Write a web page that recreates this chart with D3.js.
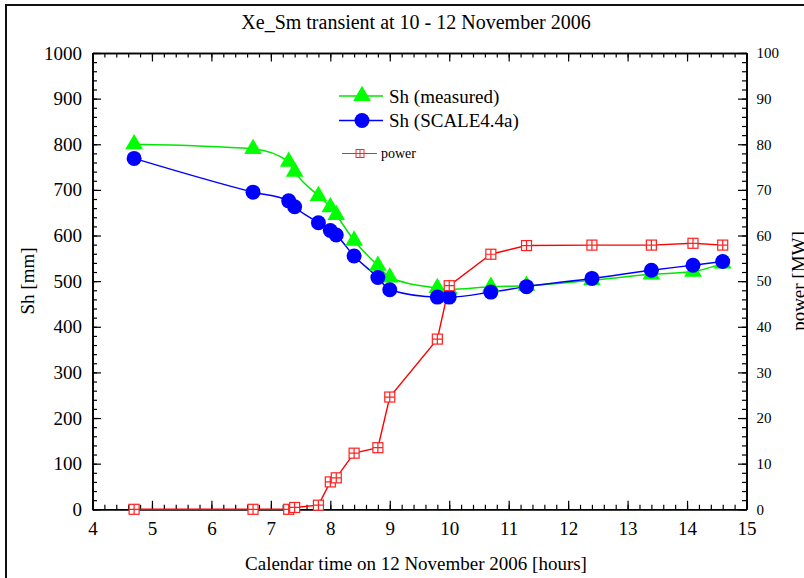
<!DOCTYPE html>
<html>
<head>
<meta charset="utf-8">
<script src="https://cdn.jsdelivr.net/npm/d3@7"></script>
<style>
  body { margin: 0; background: #fff; }
  svg text { font-family: "Liberation Serif", "Times New Roman", serif; fill: #000; }
  .axis path, .axis line { stroke: #000; }
  .axis path { stroke-width: 1.6; }
  .axis line { stroke-width: 1.2; }
</style>
</head>
<body>
<div id="chart"></div>
<script>
// data
var hours = [4.7, 6.7, 7.3, 7.4, 7.8, 8.0, 8.1, 8.4, 8.8, 9.0, 9.8, 10.0, 10.7, 11.3, 12.4, 13.4, 14.1, 14.6];
var shMeasured = [800, 790, 762, 740, 687, 662, 645, 589, 534, 508, 485, 482, 488, 490, 502, 515, 521, 539];
var shScale = [769, 695, 676, 663, 628, 611, 601, 555, 508, 481, 465, 465, 476, 488, 506, 524, 535, 543];
var power = [0, 0, 0, 0.4, 0.9, 6.0, 6.9, 12.3, 13.5, 24.6, 37.3, 49.0, 55.9, 57.8, 57.9, 57.9, 58.3, 57.9];
var xTicks = [4, 5, 6, 7, 8, 9, 10, 11, 12, 13, 14, 15];
var yTicks = [0, 100, 200, 300, 400, 500, 600, 700, 800, 900, 1000];
var powerTicks = [0, 10, 20, 30, 40, 50, 60, 70, 80, 90, 100];

var svgWidth = 804;
var svgHeight = 578;

// plot frame in pixels
var plotLeft = 92.5, plotRight = 746.5, plotTop = 53, plotBottom = 509.3;

var svg = d3.select("#chart")
  .append("svg")
  .attr("width", svgWidth)
  .attr("height", svgHeight);

// outer border of the figure
svg.append("path")
  .attr("d", "M6,600 L6,5 L820,5")
  .attr("fill", "none")
  .attr("stroke", "#111")
  .attr("stroke-width", 2);

var x = d3.scaleLinear().domain([4, 15]).range([plotLeft, plotRight]);
var yLeft = d3.scaleLinear().domain([0, 1000]).range([plotBottom, plotTop]);
var yRight = d3.scaleLinear().domain([0, 100]).range([plotBottom, plotTop]);

var minorX = d3.range(4, 15.001, 0.2);
var minorY = d3.range(0, 1000.1, 20);
var minorP = d3.range(0, 100.01, 2);

// minor ticks first, then major axes with labels
function addAxis(axis, tx, ty) {
  return svg.append("g")
    .attr("class", "axis")
    .attr("transform", `translate(${tx}, ${ty})`)
    .call(axis);
}

addAxis(d3.axisBottom(x).tickValues(minorX).tickSize(-4.5).tickSizeOuter(0).tickFormat(""), 0, plotBottom);
addAxis(d3.axisTop(x).tickValues(minorX).tickSize(-4.5).tickSizeOuter(0).tickFormat(""), 0, plotTop);
addAxis(d3.axisLeft(yLeft).tickValues(minorY).tickSize(-4.5).tickSizeOuter(0).tickFormat(""), plotLeft, 0);
addAxis(d3.axisRight(yRight).tickValues(minorP).tickSize(-4.5).tickSizeOuter(0).tickFormat(""), plotRight, 0);

var xAxis = addAxis(d3.axisBottom(x).tickValues(xTicks).tickSize(-8.5).tickSizeOuter(0)
  .tickPadding(12).tickFormat(d3.format("d")), 0, plotBottom);
addAxis(d3.axisTop(x).tickValues(xTicks).tickSize(-8.5).tickSizeOuter(0).tickFormat(""), 0, plotTop);
var yAxis = addAxis(d3.axisLeft(yLeft).tickValues(yTicks).tickSize(-8.5).tickSizeOuter(0)
  .tickPadding(10.5).tickFormat(d3.format("d")), plotLeft, 0);
var pAxis = addAxis(d3.axisRight(yRight).tickValues(powerTicks).tickSize(-8.5).tickSizeOuter(0)
  .tickPadding(10).tickFormat(d3.format("d")), plotRight, 0);

xAxis.selectAll("text").style("font-size", "19px");
yAxis.selectAll("text").style("font-size", "19px");
pAxis.selectAll("text").style("font-size", "15px");

// title and axis labels
svg.append("text")
  .attr("x", 416)
  .attr("y", 29)
  .attr("text-anchor", "middle")
  .style("font-size", "20px")
  .text("Xe_Sm transient at 10 - 12 November 2006");

svg.append("text")
  .attr("x", 416)
  .attr("y", 570)
  .attr("text-anchor", "middle")
  .style("font-size", "19px")
  .text("Calendar time on 12 November 2006 [hours]");

svg.append("text")
  .attr("transform", "rotate(-90)")
  .attr("x", -281)
  .attr("y", 34)
  .attr("text-anchor", "middle")
  .style("font-size", "19px")
  .text("Sh [mm]");

svg.append("text")
  .attr("transform", "rotate(-90)")
  .attr("x", -281)
  .attr("y", 805)
  .attr("text-anchor", "middle")
  .style("font-size", "19px")
  .text("power [MW]");

// series
var points = hours.map(function(h, i) {
  return { h: h, meas: shMeasured[i], calc: shScale[i], p: power[i] };
});

var triangle = d3.symbol().type(d3.symbolTriangle).size(135);

function drawPower(g) {
  g.append("rect")
    .attr("x", -5).attr("y", -5).attr("width", 10).attr("height", 10)
    .attr("fill", "#fff").attr("stroke", "#ff2020").attr("stroke-width", 1.2);
  g.append("path")
    .attr("d", "M-5,0H5M0,-5V5")
    .attr("stroke", "#ff2020").attr("stroke-width", 1.2);
}

svg.append("path")
  .datum(points)
  .attr("fill", "none")
  .attr("stroke", "#ff0000")
  .attr("stroke-width", 1.4)
  .attr("d", d3.line().x(d => x(d.h)).y(d => yRight(d.p)));

svg.append("path")
  .datum(points)
  .attr("fill", "none")
  .attr("stroke", "#00e600")
  .attr("stroke-width", 1.5)
  .attr("d", d3.line().curve(d3.curveMonotoneX).x(d => x(d.h)).y(d => yLeft(d.meas)));

svg.append("path")
  .datum(points)
  .attr("fill", "none")
  .attr("stroke", "#0000ff")
  .attr("stroke-width", 1.5)
  .attr("d", d3.line().curve(d3.curveMonotoneX).x(d => x(d.h)).y(d => yLeft(d.calc)));

svg.selectAll(".tri")
  .data(points)
  .enter()
  .append("path")
  .attr("class", "tri")
  .attr("transform", d => `translate(${x(d.h)}, ${yLeft(d.meas)})`)
  .attr("d", triangle)
  .attr("fill", "#00ff00");

svg.selectAll(".dot")
  .data(points)
  .enter()
  .append("circle")
  .attr("class", "dot")
  .attr("cx", d => x(d.h))
  .attr("cy", d => yLeft(d.calc))
  .attr("r", 7.5)
  .attr("fill", "#0000ff");

svg.selectAll(".pw")
  .data(points)
  .enter()
  .append("g")
  .attr("class", "pw")
  .attr("transform", d => `translate(${x(d.h)}, ${yRight(d.p)})`)
  .each(function() { drawPower(d3.select(this)); });

// legend
var legend = svg.append("g");

legend.append("line")
  .attr("x1", 339).attr("x2", 383).attr("y1", 96).attr("y2", 96)
  .attr("stroke", "#00e600").attr("stroke-width", 1.5);
legend.append("path")
  .attr("transform", "translate(362, 96)")
  .attr("d", triangle)
  .attr("fill", "#00ff00");
legend.append("text")
  .attr("x", 389).attr("y", 103)
  .style("font-size", "19px")
  .text("Sh (measured)");

legend.append("line")
  .attr("x1", 339).attr("x2", 383).attr("y1", 120.5).attr("y2", 120.5)
  .attr("stroke", "#0000ff").attr("stroke-width", 1.5);
legend.append("circle")
  .attr("cx", 362).attr("cy", 120.5).attr("r", 7.5)
  .attr("fill", "#0000ff");
legend.append("text")
  .attr("x", 389).attr("y", 127)
  .style("font-size", "19px")
  .text("Sh (SCALE4.4a)");

legend.append("line")
  .attr("x1", 342).attr("x2", 377).attr("y1", 153.5).attr("y2", 153.5)
  .attr("stroke", "#ff2020").attr("stroke-width", 1.2);
var lp = legend.append("g").attr("transform", "translate(360, 153.5) scale(0.8)");
drawPower(lp);
legend.append("text")
  .attr("x", 381).attr("y", 158)
  .style("font-size", "14px")
  .text("power");
</script>
</body>
</html>
